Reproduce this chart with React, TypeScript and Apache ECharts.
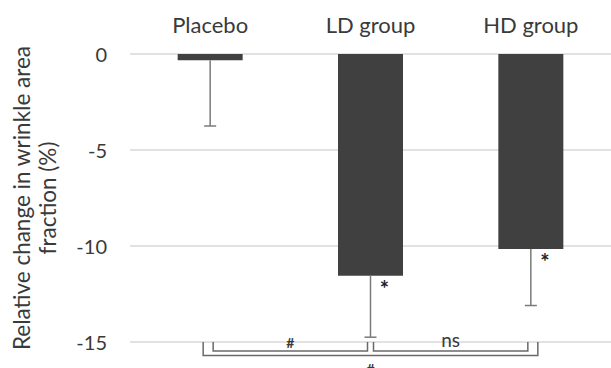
import React, { useEffect, useRef } from "react";
import * as echarts from "echarts";

const categories = ["Placebo", "LD group", "HD group"];
const means = [-0.33, -11.55, -10.15];
const sds = [3.42, 3.2, 2.95];
const significance = ["", "*", "*"];
const yTicks = { min: -15, max: 0, interval: 5 };
// comparisons: [fromIndex, toIndex, level]
const comparisons = [
  [0, 1, 0],
  [1, 2, 0],
  [0, 2, 1],
];
const comparisonLabels = ["#", "ns", "#"];

const FONT = "Lato";
const TEXT = "#3a3a3a";

export default function App() {
  const ref = useRef<HTMLDivElement>(null);
  useEffect(() => {
    if (!ref.current) return;
    const chart = echarts.init(ref.current, undefined, { renderer: "svg" });
    const errData = categories.map((_, i) => [i, means[i], means[i] - sds[i]]);
    chart.setOption({
      animation: false,
      grid: { left: 128, right: -9, top: 54, bottom: 26, containLabel: false },
      xAxis: {
        type: "category",
        position: "top",
        data: categories,
        axisLine: { show: false },
        axisTick: { show: false },
        axisLabel: { color: TEXT, fontFamily: FONT, fontSize: 22, margin: 19 },
      },
      yAxis: {
        type: "value",
        min: yTicks.min,
        max: yTicks.max,
        interval: yTicks.interval,
        axisLine: { show: false },
        axisTick: { show: false },
        axisLabel: { color: TEXT, fontFamily: FONT, fontSize: 20, margin: 23 },
        splitLine: { lineStyle: { color: "#d9d9d9", width: 1.5 } },
        name: "Relative change in wrinkle area\nfraction (%)",
        nameLocation: "middle",
        nameRotate: 90,
        nameGap: 70,
        nameTextStyle: { color: TEXT, fontFamily: FONT, fontSize: 22.5, lineHeight: 26 },
      },
      series: [
        {
          type: "bar",
          data: means,
          barWidth: 65,
          itemStyle: { color: "#404040" },
        },
        {
          type: "custom",
          clip: false,
          data: errData,
          encode: { x: 0, y: [1, 2] },
          renderItem: (params: any, api: any) => {
            const i = api.value(0);
            const p0 = api.coord([i, api.value(1)]);
            const p1 = api.coord([i, api.value(2)]);
            const children: any[] = [
              {
                type: "line",
                shape: { x1: p0[0], y1: p0[1], x2: p1[0], y2: p1[1] },
                style: { stroke: "#7a7a7a", lineWidth: 1.5 },
              },
              {
                type: "line",
                shape: { x1: p1[0] - 6, y1: p1[1], x2: p1[0] + 6, y2: p1[1] },
                style: { stroke: "#7a7a7a", lineWidth: 1.5 },
              },
            ];
            const s = significance[params.dataIndex];
            if (s) {
              children.push({
                type: "text",
                x: p0[0] + 14,
                y: p0[1] + 13,
                style: {
                  text: s,
                  fill: "#222",
                  font: `bold 22px ${FONT}`,
                  align: "center",
                  verticalAlign: "middle",
                },
              });
            }
            return { type: "group", children };
          },
          z: 3,
        },
        {
          type: "custom",
          clip: false,
          data: comparisons,
          encode: { x: [0, 1] },
          renderItem: (params: any, api: any) => {
            const from = api.value(0);
            const to = api.value(1);
            const level = api.value(2);
            const top = api.coord([from, yTicks.min])[1];
            const cFrom = api.coord([from, yTicks.min])[0];
            const cTo = api.coord([to, yTicks.min])[0];
            const label = comparisonLabels[params.dataIndex];
            const stroke = { stroke: "#6a6a6a", lineWidth: 1.5, fill: "none" };
            if (level === 0) {
              const x1 = cFrom + 3;
              const x2 = cTo - 3;
              const yb = top + 9;
              return {
                type: "group",
                children: [
                  {
                    type: "polyline",
                    shape: { points: [[x1, top], [x1, yb], [x2, yb], [x2, top]] },
                    style: stroke,
                  },
                  {
                    type: "text",
                    x: (x1 + x2) / 2,
                    y: yb - 2,
                    style: {
                      text: label,
                      fill: TEXT,
                      font: label === "#" ? `bold 14px ${FONT}` : `19px ${FONT}`,
                      align: "center",
                      verticalAlign: "bottom",
                    },
                  },
                ],
              };
            }
            const x1 = cFrom - 7;
            const x2 = cTo + 7;
            const yb = top + 13.5;
            return {
              type: "group",
              children: [
                {
                  type: "polyline",
                  shape: { points: [[x1, top], [x1, yb], [x2, yb], [x2, top]] },
                  style: stroke,
                },
                {
                  type: "text",
                  x: (x1 + x2) / 2,
                  y: yb + 6,
                  style: {
                    text: label,
                    fill: TEXT,
                    font: `bold 14px ${FONT}`,
                    align: "center",
                    verticalAlign: "top",
                  },
                },
              ],
            };
          },
          z: 4,
        },
      ],
    });
    return () => chart.dispose();
  }, []);
  return (
    <div
      ref={ref}
      style={{ position: "absolute", left: 0, top: 0, width: 611, height: 368 }}
    />
  );
}
